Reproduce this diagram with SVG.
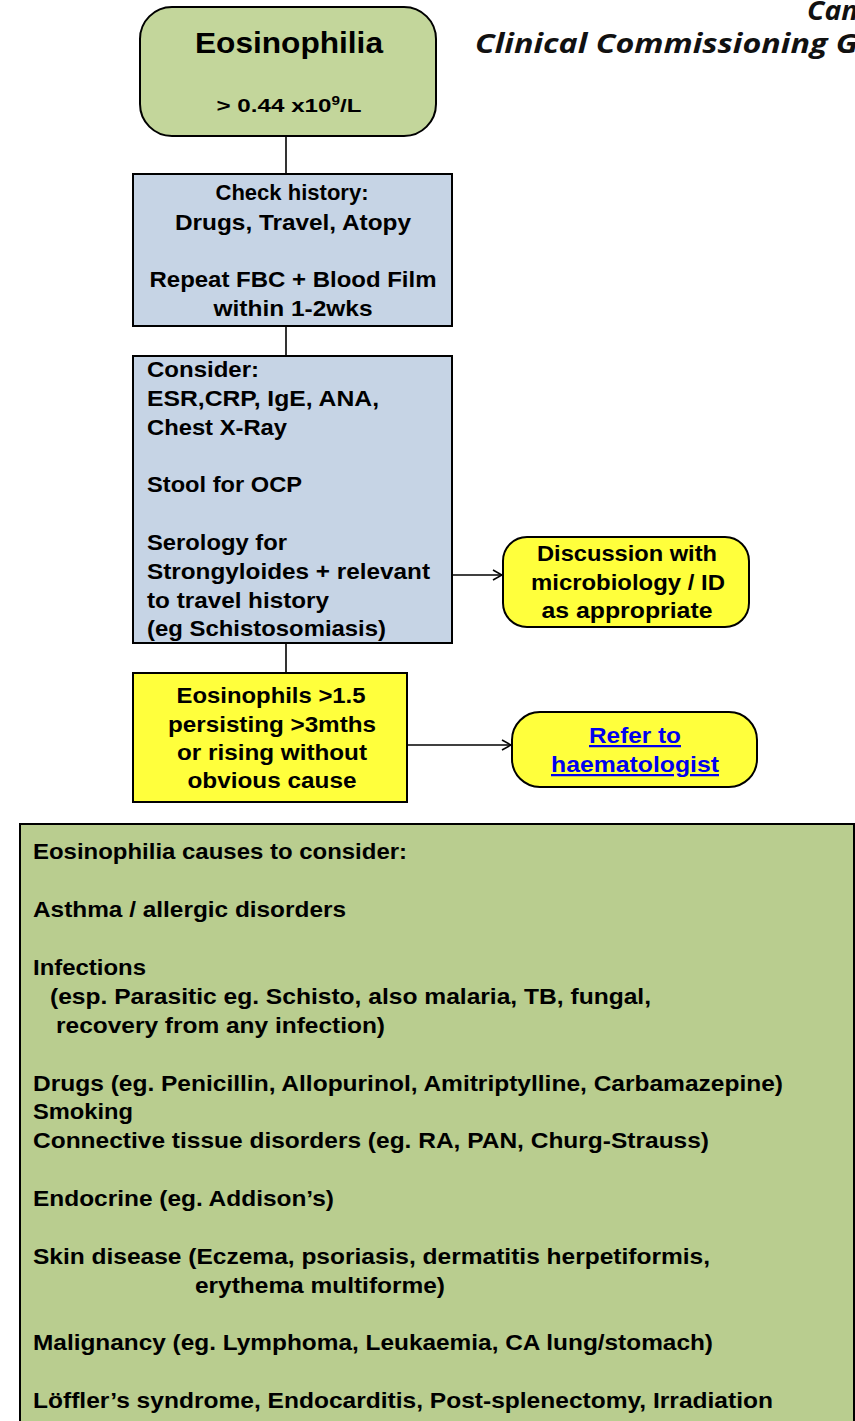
<svg xmlns="http://www.w3.org/2000/svg" width="855" height="1421" viewBox="0 0 855 1421">
<style>
.t{font-family:"Liberation Sans",Arial,sans-serif;font-weight:bold;font-size:22.5px;fill:#000}
.s{font-size:22px}
.c{text-anchor:middle}
.box{stroke:#000;stroke-width:2}
.conn{stroke:#000;stroke-width:1.6;fill:none}
.logo{font-family:"Open Sans","Liberation Sans",sans-serif;font-style:italic;font-weight:bold;font-size:26px;fill:#111}
.link{fill:#0000ee;text-decoration:underline}
</style>
<defs>
<marker id="arr" viewBox="0 0 12 12" refX="11" refY="6" markerWidth="12" markerHeight="12" markerUnits="userSpaceOnUse" orient="auto">
<polyline points="2,1 11,6 2,11" fill="none" stroke="#000" stroke-width="1.6"/>
</marker>
</defs>
<rect width="855" height="1421" fill="#fff"/>
<g id="logo">
<text class="logo" x="807" y="20" textLength="60" lengthAdjust="spacingAndGlyphs">Cam</text>
<text class="logo" x="475" y="53" textLength="383" lengthAdjust="spacingAndGlyphs">Clinical Commissioning G</text>
</g>
<g id="connectors">
<line class="conn" x1="286" y1="136" x2="286" y2="174"/>
<line class="conn" x1="286" y1="326" x2="286" y2="356"/>
<line class="conn" x1="286" y1="643" x2="286" y2="673"/>
<line class="conn" x1="452" y1="575" x2="502" y2="575" marker-end="url(#arr)"/>
<line class="conn" x1="407" y1="745" x2="511" y2="745" marker-end="url(#arr)"/>
</g>
<g id="n-eosinophilia">
<rect class="box" x="140" y="7" width="296" height="129" rx="32" fill="#c3d69b"/>
<text class="t c" x="289" y="53" style="font-size:29px" textLength="188" lengthAdjust="spacingAndGlyphs">Eosinophilia</text>
<text class="t c" x="289" y="112" style="font-size:19px" textLength="145" lengthAdjust="spacingAndGlyphs">&gt; 0.44 x10<tspan style="font-size:12px" dy="-7">9</tspan><tspan dy="7">/L</tspan></text>
</g>
<g id="n-check">
<rect class="box" x="133" y="174" width="319" height="152" fill="#c6d4e5"/>
<text class="t c" x="292" y="200" textLength="153" lengthAdjust="spacingAndGlyphs">Check history:</text>
<text class="t c" x="293" y="230" textLength="236" lengthAdjust="spacingAndGlyphs">Drugs, Travel, Atopy</text>
<text class="t c" x="293" y="287" textLength="287" lengthAdjust="spacingAndGlyphs">Repeat FBC + Blood Film</text>
<text class="t c" x="293" y="316" textLength="159" lengthAdjust="spacingAndGlyphs">within 1-2wks</text>
</g>
<g id="n-consider">
<rect class="box" x="133" y="356" width="319" height="287" fill="#c6d4e5"/>
<text class="t" x="147" y="377" textLength="112" lengthAdjust="spacingAndGlyphs">Consider:</text>
<text class="t" x="147" y="406" textLength="232" lengthAdjust="spacingAndGlyphs">ESR,CRP, IgE, ANA,</text>
<text class="t" x="147" y="435" textLength="140" lengthAdjust="spacingAndGlyphs">Chest X-Ray</text>
<text class="t" x="147" y="492" textLength="155" lengthAdjust="spacingAndGlyphs">Stool for OCP</text>
<text class="t" x="147" y="550" textLength="140" lengthAdjust="spacingAndGlyphs">Serology for</text>
<text class="t" x="147" y="579" textLength="283" lengthAdjust="spacingAndGlyphs">Strongyloides + relevant</text>
<text class="t" x="147" y="608" textLength="182" lengthAdjust="spacingAndGlyphs">to travel history</text>
<text class="t" x="147" y="636" textLength="239" lengthAdjust="spacingAndGlyphs">(eg Schistosomiasis)</text>
</g>
<g id="n-discussion">
<rect class="box" x="503" y="537" width="246" height="90" rx="24" fill="#ffff3c"/>
<text class="t c" x="627" y="561" textLength="180" lengthAdjust="spacingAndGlyphs">Discussion with</text>
<text class="t c" x="628" y="590" textLength="194" lengthAdjust="spacingAndGlyphs">microbiology / ID</text>
<text class="t c" x="627" y="618" textLength="171" lengthAdjust="spacingAndGlyphs">as appropriate</text>
</g>
<g id="n-eosinophils">
<rect class="box" x="133" y="673" width="274" height="129" fill="#ffff3c"/>
<text class="t c" x="271" y="703" textLength="189" lengthAdjust="spacingAndGlyphs">Eosinophils &gt;1.5</text>
<text class="t c" x="272" y="732" textLength="208" lengthAdjust="spacingAndGlyphs">persisting &gt;3mths</text>
<text class="t c" x="272" y="760" textLength="190" lengthAdjust="spacingAndGlyphs">or rising without</text>
<text class="t c" x="272" y="788" textLength="169" lengthAdjust="spacingAndGlyphs">obvious cause</text>
</g>
<g id="n-refer">
<rect class="box" x="512" y="712" width="245" height="75" rx="28" fill="#ffff3c"/>
<text class="t c link" x="635" y="743" textLength="92" lengthAdjust="spacingAndGlyphs">Refer to</text>
<text class="t c link" x="635" y="772" textLength="168" lengthAdjust="spacingAndGlyphs">haematologist</text>
</g>
<g id="n-causes">
<rect class="box" x="20" y="824" width="834" height="620" fill="#b9cd8f"/>
<text class="t s" x="33" y="859" textLength="374" lengthAdjust="spacingAndGlyphs">Eosinophilia causes to consider:</text>
<text class="t s" x="33" y="917" textLength="313" lengthAdjust="spacingAndGlyphs">Asthma / allergic disorders</text>
<text class="t s" x="33" y="975" textLength="113" lengthAdjust="spacingAndGlyphs">Infections</text>
<text class="t s" x="50" y="1004" textLength="601" lengthAdjust="spacingAndGlyphs">(esp. Parasitic eg. Schisto, also malaria, TB, fungal,</text>
<text class="t s" x="56" y="1033" textLength="329" lengthAdjust="spacingAndGlyphs">recovery from any infection)</text>
<text class="t s" x="33" y="1091" textLength="750" lengthAdjust="spacingAndGlyphs">Drugs (eg. Penicillin, Allopurinol, Amitriptylline, Carbamazepine)</text>
<text class="t s" x="33" y="1119" textLength="100" lengthAdjust="spacingAndGlyphs">Smoking</text>
<text class="t s" x="33" y="1148" textLength="676" lengthAdjust="spacingAndGlyphs">Connective tissue disorders (eg. RA, PAN, Churg-Strauss)</text>
<text class="t s" x="33" y="1206" textLength="301" lengthAdjust="spacingAndGlyphs">Endocrine (eg. Addison’s)</text>
<text class="t s" x="33" y="1264" textLength="677" lengthAdjust="spacingAndGlyphs">Skin disease (Eczema, psoriasis, dermatitis herpetiformis,</text>
<text class="t s" x="195" y="1293" textLength="250" lengthAdjust="spacingAndGlyphs">erythema multiforme)</text>
<text class="t s" x="33" y="1350" textLength="680" lengthAdjust="spacingAndGlyphs">Malignancy (eg. Lymphoma, Leukaemia, CA lung/stomach)</text>
<text class="t s" x="33" y="1408" textLength="740" lengthAdjust="spacingAndGlyphs">Löffler’s syndrome, Endocarditis, Post-splenectomy, Irradiation</text>
</g>
</svg>
